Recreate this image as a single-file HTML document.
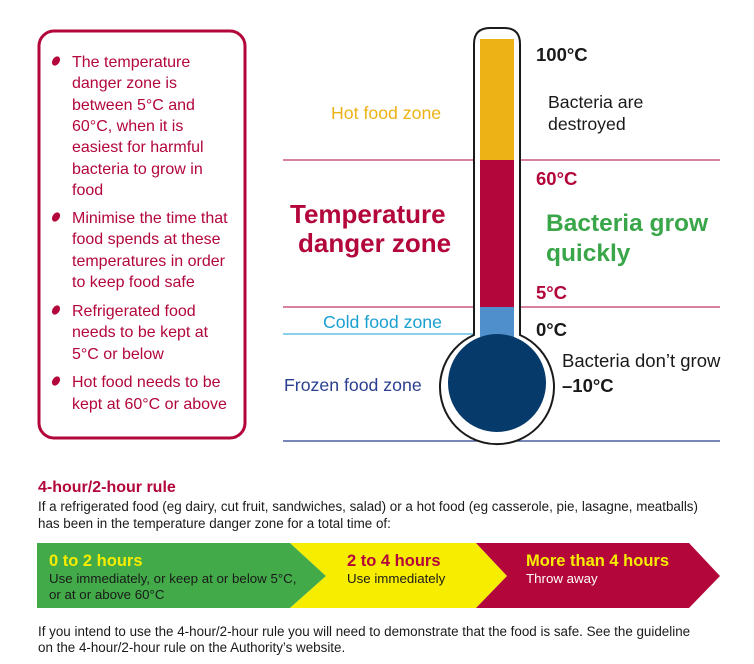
<!DOCTYPE html>
<html><head><meta charset="utf-8"><style>
html,body{margin:0;padding:0;background:#fff;}
svg{display:block;font-family:"Liberation Sans",sans-serif;}
</style></head><body>
<svg width="754" height="664" viewBox="0 0 754 664">
<rect x="39" y="31" width="206" height="407" rx="15" fill="#fff" stroke="#b3063b" stroke-width="3"/>
<g fill="#b3063b" font-size="16">
<g>
<ellipse cx="56" cy="61" rx="3.5" ry="5" transform="rotate(35 56 61)"/>
<text x="72" y="67">The temperature</text>
<text x="72" y="88">danger zone is</text>
<text x="72" y="110">between 5°C and</text>
<text x="72" y="131">60°C, when it is</text>
<text x="72" y="152">easiest for harmful</text>
<text x="72" y="174">bacteria to grow in</text>
<text x="72" y="195">food</text>
</g>
<g>
<ellipse cx="56" cy="217" rx="3.5" ry="5" transform="rotate(35 56 217)"/>
<text x="72" y="223">Minimise the time that</text>
<text x="72" y="244">food spends at these</text>
<text x="72" y="266">temperatures in order</text>
<text x="72" y="287">to keep food safe</text>
</g>
<g>
<ellipse cx="56" cy="310" rx="3.5" ry="5" transform="rotate(35 56 310)"/>
<text x="72" y="316">Refrigerated food</text>
<text x="72" y="337">needs to be kept at</text>
<text x="72" y="359">5°C or below</text>
</g>
<g>
<ellipse cx="56" cy="381" rx="3.5" ry="5" transform="rotate(35 56 381)"/>
<text x="72" y="387">Hot food needs to be</text>
<text x="72" y="409">kept at 60°C or above</text>
</g>
</g>

<line x1="283" y1="160" x2="720" y2="160" stroke="#b3063b" stroke-width="1"/>
<line x1="283" y1="307" x2="720" y2="307" stroke="#b3063b" stroke-width="1"/>
<line x1="283" y1="334" x2="490" y2="334" stroke="#1aa0d0" stroke-width="1"/>
<line x1="283" y1="441" x2="720" y2="441" stroke="#2a3f8f" stroke-width="1.2"/>

<g>
<path d="M474 335 L474 44 Q474 28 490 28 L504 28 Q520 28 520 44 L520 335 A57 57 0 1 1 474 335 Z" fill="#fff" stroke="#1a1a1a" stroke-width="2"/>
<rect x="480" y="39" width="34" height="121" fill="#ecb216"/>
<rect x="480" y="160" width="34" height="147" fill="#b3063b"/>
<rect x="480" y="307" width="34" height="40" fill="#4f8fcb"/>
<circle cx="497" cy="383" r="49" fill="#063a6b"/>
</g>

<text x="331" y="119" font-size="17.7" fill="#ecb216">Hot food zone</text>
<text x="290" y="223" font-size="26" font-weight="bold" fill="#b3063b">Temperature</text>
<text x="298" y="252" font-size="26" font-weight="bold" fill="#b3063b">danger zone</text>
<text x="323" y="328" font-size="17.7" fill="#1aa0d0">Cold food zone</text>
<text x="284" y="391" font-size="17.7" fill="#2a3f8f">Frozen food zone</text>

<g font-weight="bold" font-size="18.5">
<text x="536" y="61" fill="#1a1a1a">100°C</text>
<text x="536" y="185" fill="#b3063b">60°C</text>
<text x="536" y="299" fill="#b3063b">5°C</text>
<text x="536" y="336" fill="#1a1a1a">0°C</text>
<text x="562" y="392" fill="#1a1a1a">–10°C</text>
</g>
<text x="548" y="108" font-size="17.7" fill="#1a1a1a">Bacteria are</text>
<text x="548" y="130" font-size="17.7" fill="#1a1a1a">destroyed</text>
<text x="546" y="231" font-size="24.5" font-weight="bold" fill="#3aa64a">Bacteria grow</text>
<text x="546" y="261" font-size="24.5" font-weight="bold" fill="#3aa64a">quickly</text>
<text x="562" y="367" font-size="18.5" fill="#1a1a1a">Bacteria don’t grow</text>

<text x="38" y="492" font-size="16" font-weight="bold" fill="#b3063b">4-hour/2-hour rule</text>
<text x="38" y="511" font-size="13.4" fill="#1a1a1a">If a refrigerated food (eg dairy, cut fruit, sandwiches, salad) or a hot food (eg casserole, pie, lasagne, meatballs)</text>
<text x="38" y="528" font-size="13.4" fill="#1a1a1a">has been in the temperature danger zone for a total time of:</text>

<polygon points="37,543 290,543 326,576 290,608 37,608" fill="#42aa48"/>
<polygon points="290,543 476,543 507,576 476,608 290,608 326,576" fill="#f7ed00"/>
<polygon points="476,543 689,543 720,576 689,608 476,608 507,576" fill="#b3063b"/>
<text x="49" y="566" font-size="16.5" font-weight="bold" fill="#f7ed00">0 to 2 hours</text>
<text x="49" y="583" font-size="13.3" fill="#1a1a1a">Use immediately, or keep at or below 5°C,</text>
<text x="49" y="599" font-size="13.3" fill="#1a1a1a">or at or above 60°C</text>
<text x="347" y="566" font-size="16.5" font-weight="bold" fill="#b3063b">2 to 4 hours</text>
<text x="347" y="583" font-size="13.3" fill="#1a1a1a">Use immediately</text>
<text x="526" y="566" font-size="16.5" font-weight="bold" fill="#f7ed00">More than 4 hours</text>
<text x="526" y="583" font-size="13.3" fill="#fff">Throw away</text>

<text x="38" y="636" font-size="13.4" fill="#1a1a1a">If you intend to use the 4-hour/2-hour rule you will need to demonstrate that the food is safe. See the guideline</text>
<text x="38" y="652" font-size="13.4" fill="#1a1a1a">on the 4-hour/2-hour rule on the Authority’s website.</text>
</svg>
</body></html>
